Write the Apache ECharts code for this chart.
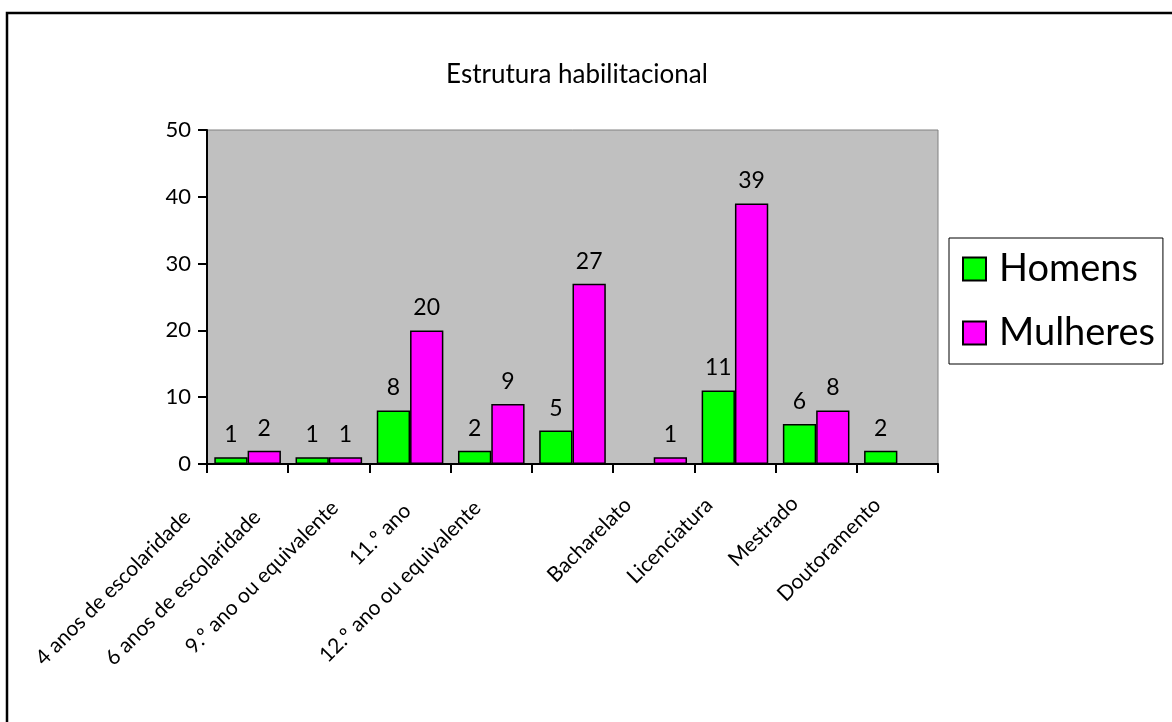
<!DOCTYPE html>
<html>
<head>
<meta charset="utf-8">
<script src="https://cdn.jsdelivr.net/npm/echarts@6/dist/echarts.min.js"></script>
<style>html,body{margin:0;padding:0;background:#fff}#c{width:1172px;height:722px}</style>
</head>
<body>
<div id="c"></div>
<script>
const categories = ['4 anos de escolaridade','6 anos de escolaridade','9.º ano ou equivalente','11.º ano','12.º ano ou equivalente','Bacharelato','Licenciatura','Mestrado','Doutoramento'];
const homens = [1, 1, 8, 2, 5, null, 11, 6, 2];
const mulheres = [2, 1, 20, 9, 27, 1, 39, 8, null];
const yTicks = {min: 0, max: 50, interval: 10};
const seriesNames = ['Homens', 'Mulheres'];

// label offsets (layout only, px): leftward and downward shift of each rotated label
const labelDX = [53, 65, 68, 76, 88, 19, 18, 14, 13];
const labelDY = [12, 12, 3, 6, 3, 0, 0, -1, 0];

const FONT = 'Lato, "Open Sans", sans-serif';
const LABEL_FS = 21;
const chart = echarts.init(document.getElementById('c'), null, {renderer: 'canvas'});
chart.setOption({
  animation: false,
  backgroundColor: '#fff',
  textStyle: {fontFamily: FONT, color: '#000'},
  title: {
    text: 'Estrutura habilitacional',
    left: 572, textAlign: 'center', top: 57,
    textStyle: {fontFamily: FONT, fontSize: 26, fontWeight: 'normal', color: '#000'}
  },
  graphic: [{
    type: 'rect', z: -1, silent: true,
    shape: {x: 7, y: 13, width: 1300, height: 800},
    style: {fill: 'none', stroke: '#000', lineWidth: 2.5}
  }],
  legend: {
    orient: 'vertical', left: 949, top: 238,
    data: seriesNames,
    icon: 'rect', itemWidth: 23, itemHeight: 23, itemGap: 26,
    borderColor: '#000', borderWidth: 1,
    padding: [12, 8, 12, 13],
    textStyle: {fontFamily: FONT, fontSize: 38, color: '#000', padding: [0, 0, 0, 8]}
  },
  grid: {
    left: 207, top: 130, width: 731, height: 334,
    show: true, backgroundColor: '#c0c0c0', borderColor: '#808080', borderWidth: 1,
    containLabel: false, outerBoundsMode: 'none'
  },
  xAxis: {
    type: 'category',
    data: categories.map((c, i) => {
      const h = labelDX[i], v = labelDY[i];
      const a = Math.max(0, Math.round((h + v) / 1.414));
      const b = Math.max(0, Math.round((h - v) / 1.414));
      return {value: c, textStyle: {align: 'right', verticalAlign: 'bottom', padding: [0, a, b, 0]}};
    }),
    axisLine: {lineStyle: {color: '#000', width: 2}},
    axisTick: {show: true, length: 9, lineStyle: {color: '#000', width: 2}},
    axisLabel: {interval: 0, rotate: 45, fontSize: LABEL_FS, color: '#000', fontFamily: FONT, margin: 45},
    splitLine: {show: false}
  },
  yAxis: {
    type: 'value', min: yTicks.min, max: yTicks.max, interval: yTicks.interval,
    axisLine: {show: true, lineStyle: {color: '#000', width: 2}},
    axisTick: {show: true, length: 9, lineStyle: {color: '#000', width: 2}},
    axisLabel: {fontSize: 22, color: '#000', fontFamily: FONT, margin: 16},
    splitLine: {show: false}
  },
  series: [
    {
      name: seriesNames[0], type: 'bar', data: homens,
      barGap: '0%', barCategoryGap: '18%',
      itemStyle: {color: '#00ff00', borderColor: '#000', borderWidth: 1.5},
      label: {show: true, position: 'top', distance: 11, fontSize: 23, color: '#000', fontFamily: FONT}
    },
    {
      name: seriesNames[1], type: 'bar', data: mulheres,
      barGap: '0%', barCategoryGap: '18%',
      itemStyle: {color: '#ff00ff', borderColor: '#000', borderWidth: 1.5},
      label: {show: true, position: 'top', distance: 11, fontSize: 23, color: '#000', fontFamily: FONT}
    }
  ]
});
</script>
</body>
</html>
